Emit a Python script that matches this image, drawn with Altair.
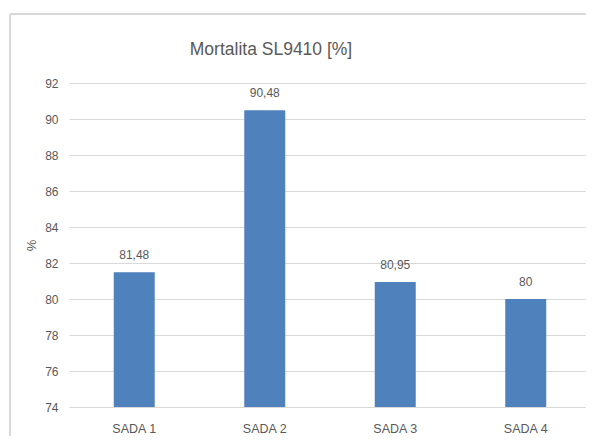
import altair as alt
import pandas as pd

categories = ["SADA 1", "SADA 2", "SADA 3", "SADA 4"]
values = [81.48, 90.48, 80.95, 80.0]
labels = ["81,48", "90,48", "80,95", "80"]
y_ticks = [74, 76, 78, 80, 82, 84, 86, 88, 90, 92]
title_text = ["Mortalita SL9410 [%]"]

df = pd.DataFrame({"cat": categories, "val": values, "lab": labels})

FONT = "Liberation Sans, Arial, sans-serif"
TXT = "#595959"
GRID = "#d9d9d9"

x = alt.X("cat:N", sort=categories, title=None,
          scale=alt.Scale(paddingInner=0.686, paddingOuter=0.343, range=[0, 522]),
          axis=alt.Axis(labelAngle=0, ticks=False, domain=True, domainColor=GRID,
                        labelFont=FONT, labelFontSize=12.5, labelColor=TXT, labelPadding=15))
y = alt.Y("val:Q", title="%",
          scale=alt.Scale(domain=[74, 92], nice=False, zero=False),
          axis=alt.Axis(values=y_ticks, ticks=False, domain=False, labelOverlap=False,
                        gridColor=GRID, labelFont=FONT, labelFontSize=12, labelColor=TXT,
                        labelPadding=11, titleFont=FONT, titleFontSize=13, titleColor=TXT,
                        titleFontWeight="normal", titlePadding=6))

base = alt.Chart(df).encode(x=x, y=y)

bars = base.mark_bar(color="#4F81BD", clip=True)
text = base.mark_text(baseline="alphabetic", dy=-13, font=FONT, fontSize=12, color=TXT).encode(
    text="lab:N")

border_top = alt.Chart(df).mark_rule(stroke=GRID, strokeWidth=1.5).encode(
    x=alt.value(-59), x2=alt.value(1000), y=alt.value(-69))
border_left = alt.Chart(df).mark_rule(stroke=GRID, strokeWidth=1.5).encode(
    x=alt.value(-59), y=alt.value(-69), y2=alt.value(1000))

title = alt.Chart(pd.DataFrame({"t": title_text})).mark_text(
    font=FONT, fontSize=17.5, color=TXT, align="center", baseline="alphabetic").encode(
    x=alt.value(202), y=alt.value(-28), text="t:N")

chart = alt.layer(border_top, border_left, bars, text, title).properties(
    width=517, height=324,
    padding={"left": 61, "top": 75, "right": 0, "bottom": 29},
    autosize=alt.AutoSizeParams(type="none"),
).configure_view(stroke=None)

chart.save("out.html", embed_options={"renderer": "svg", "actions": False})
